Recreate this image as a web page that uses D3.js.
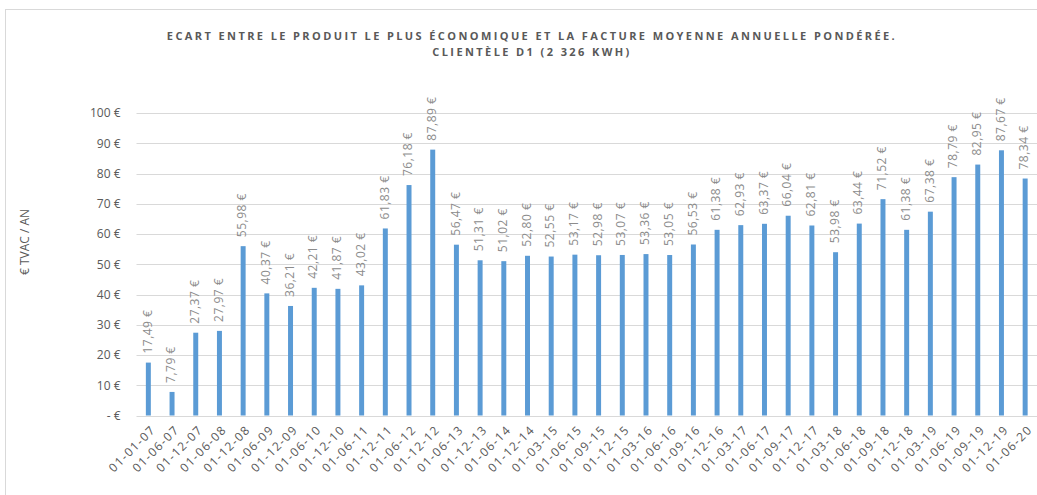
<!DOCTYPE html>
<html>
<head>
<meta charset="utf-8">
<script src="https://cdn.jsdelivr.net/npm/d3@7"></script>
<style>
  body { margin: 0; background: #fff; }
  svg { display: block; font-family: "Open Sans", sans-serif; }
</style>
</head>
<body>
<div id="chart"></div>
<script>
// dates of each tariff snapshot
const dates = ["01-01-07", "01-06-07", "01-12-07", "01-06-08", "01-12-08", "01-06-09", "01-12-09",
  "01-06-10", "01-12-10", "01-06-11", "01-12-11", "01-06-12", "01-12-12", "01-06-13", "01-12-13",
  "01-06-14", "01-12-14", "01-03-15", "01-06-15", "01-09-15", "01-12-15", "01-03-16", "01-06-16",
  "01-09-16", "01-12-16", "01-03-17", "01-06-17", "01-09-17", "01-12-17", "01-03-18", "01-06-18",
  "01-09-18", "01-12-18", "01-03-19", "01-06-19", "01-09-19", "01-12-19", "01-06-20"];

// ecart in euro TVAC per year
const ecart = [17.49, 7.79, 27.37, 27.97, 55.98, 40.37, 36.21, 42.21, 41.87, 43.02, 61.83, 76.18,
  87.89, 56.47, 51.31, 51.02, 52.80, 52.55, 53.17, 52.98, 53.07, 53.36, 53.05, 56.53, 61.38, 62.93,
  63.37, 66.04, 62.81, 53.98, 63.44, 71.52, 61.38, 67.38, 78.79, 82.95, 87.67, 78.34];

const yTicks = [0, 10, 20, 30, 40, 50, 60, 70, 80, 90, 100];

const titleLines = ["ECART ENTRE LE PRODUIT LE PLUS ÉCONOMIQUE ET LA FACTURE MOYENNE ANNUELLE PONDÉRÉE.",
  "CLIENTÈLE D1 (2 326 KWH)"];

const width = 1037, height = 495;
const margin = { top: 113, bottom: 78, left: 136.5, right: 0 };

const svg = d3.select("#chart").append("svg")
  .attr("width", width)
  .attr("height", height);

// outer frame (only left + top visible)
svg.append("rect")
  .attr("x", 5.5).attr("y", 9.5)
  .attr("width", width + 10).attr("height", height + 10)
  .attr("fill", "none").attr("stroke", "#d9d9d9");

const x = d3.scaleBand()
  .domain(dates)
  .range([margin.left, width - margin.right])
  .paddingInner(0.79)
  .paddingOuter(0.395);

const y = d3.scaleLinear()
  .domain([0, 100])
  .range([height - margin.bottom - 1.5, margin.top]);

// gridlines
svg.append("g")
  .selectAll("line")
  .data(yTicks)
  .join("line")
  .attr("x1", margin.left).attr("x2", width)
  .attr("y1", d => Math.round(y(d)) + 0.5)
  .attr("y2", d => Math.round(y(d)) + 0.5)
  .attr("stroke", "#d9d9d9");

// y axis labels
const yAxis = d3.axisLeft(y)
  .tickValues(yTicks)
  .tickSize(0)
  .tickPadding(16)
  .tickFormat(d => d === 0 ? "-  €" : d + " €");

svg.append("g")
  .attr("transform", "translate(" + margin.left + ",0)")
  .call(yAxis)
  .call(g => g.select(".domain").remove())
  .selectAll("text")
  .attr("fill", "#595959")
  .style("font-size", "12px")
  .style("font-family", "Open Sans, sans-serif");

// bars
svg.append("g")
  .selectAll("rect")
  .data(ecart)
  .join("rect")
  .attr("x", (d, i) => x(dates[i]))
  .attr("width", x.bandwidth())
  .attr("y", d => y(d))
  .attr("height", d => y(0) - y(d))
  .attr("fill", "#5b9bd5");

// value labels
svg.append("g")
  .selectAll("text")
  .data(ecart)
  .join("text")
  .attr("transform", (d, i) => "translate(" + (x(dates[i]) + x.bandwidth() / 2 - 1) + "," + (y(d) - 9) + ") rotate(-90)")
  .attr("dy", "0.35em")
  .attr("fill", "#8c8c8c")
  .style("font-size", "12px")
  .style("letter-spacing", "0.5px")
  .text(d => d3.format(".2f")(d).replace(".", ",") + " €");

// x axis labels
const xAxis = d3.axisBottom(x).tickSize(0).tickPadding(0);
svg.append("g")
  .attr("transform", "translate(0," + y(0) + ")")
  .call(xAxis)
  .call(g => g.select(".domain").remove())
  .selectAll("text")
  .attr("text-anchor", "end")
  .attr("transform", "translate(5,12) rotate(-45)")
  .attr("dy", "0.35em")
  .attr("y", 0)
  .attr("fill", "#595959")
  .style("font-size", "12px")
  .style("letter-spacing", "1.4px")
  .style("font-family", "Open Sans, sans-serif");

// y axis title
svg.append("text")
  .attr("transform", "translate(25,242) rotate(-90)")
  .attr("text-anchor", "middle")
  .attr("dy", "0.35em")
  .attr("fill", "#595959")
  .style("font-size", "12px")
  .text("€ TVAC / AN");

// title
svg.append("g")
  .selectAll("text")
  .data(titleLines)
  .join("text")
  .attr("x", 532)
  .attr("y", (d, i) => 40 + i * 16)
  .attr("text-anchor", "middle")
  .attr("fill", "#595959")
  .style("font-size", "11px")
  .style("font-weight", "bold")
  .style("letter-spacing", "2.4px")
  .text(d => d);
</script>
</body>
</html>
